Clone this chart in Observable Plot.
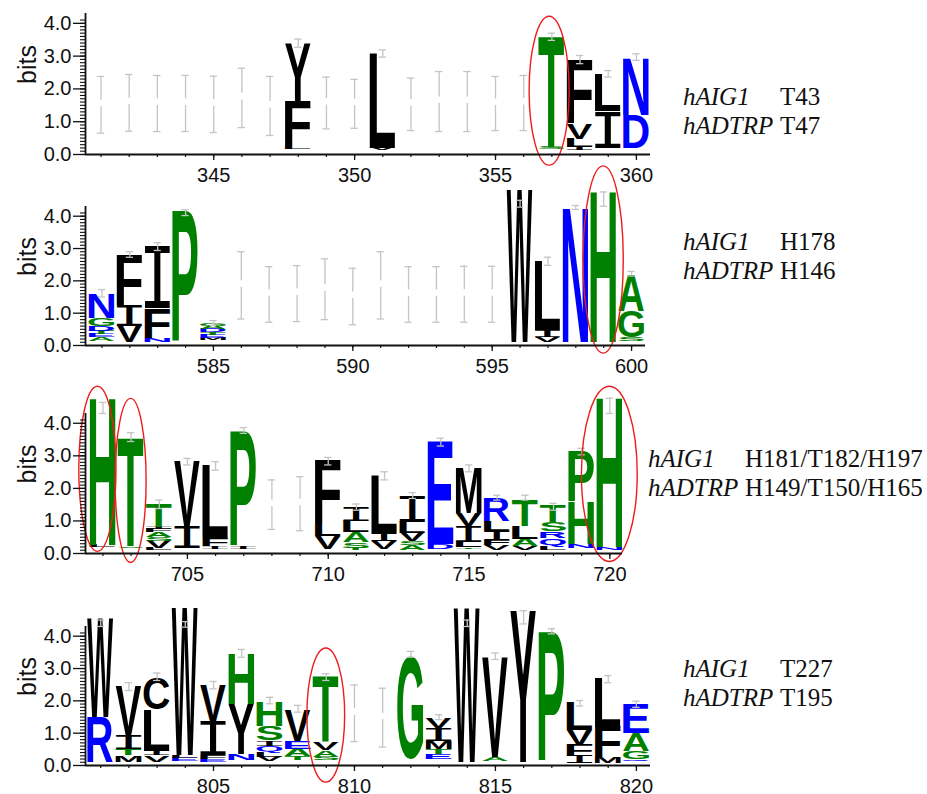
<!DOCTYPE html>
<html><head><meta charset="utf-8">
<script src="https://cdn.jsdelivr.net/npm/d3@7"></script>
<script src="https://cdn.jsdelivr.net/npm/@observablehq/plot@0.6"></script>
<style>
body{margin:0;background:#fff;}
#wrap{position:relative;width:927px;height:794px;overflow:hidden;background:#fff;}
.panel{position:absolute;left:0;}
.note{position:absolute;font-family:"Liberation Serif","Times New Roman",serif;font-size:25px;line-height:29px;color:#111;white-space:nowrap;}
.note i{display:inline-block;width:97px;}
</style></head>
<body><div id="wrap"></div>
<script>
// ---------- DATA (bits) ----------
// stacks: [position, base, letters bottom->top, heights in bits]
const p1Stacks = [
  [348, 0.15, "LFY", [0.07, 1.40, 1.77]],
  [351, 0.12, "VL", [0.06, 2.89]],
  [357, 0.15, "ST", [0.07, 3.41]],
  [358, 0.12, "ILVF", [0.10, 0.25, 0.45, 1.95]],
  [359, 0.18, "IL", [1.12, 1.11]],
  [360, 0.18, "DN", [1.02, 1.75]]
];
const p1Errors = [[341,0.65,2.38],[342,0.71,2.44],[343,0.70,2.41],[344,0.70,2.41],[345,0.67,2.39],[346,0.82,2.63],[347,0.58,2.38],[348,3.27,3.52],[349,0.78,2.36],[350,0.80,2.29],[351,2.97,3.19],[352,0.73,2.33],[353,0.70,2.53],[354,0.70,2.53],[355,0.73,2.38],[356,0.73,2.41],[357,3.48,3.70],[358,2.77,3.02],[359,2.36,2.56],[360,2.87,3.07]];
const p1Circles = [[356.92, 0.71, -0.34, 4.20]];
const p1XTicks = [345, 350, 355, 360];
const p1Note = [["hAIG1", "T43"], ["hADTRP", "T47"]];

const p2Stacks = [
  [581, 0.12, "AETDGN", [0.12, 0.10, 0.10, 0.15, 0.25, 0.76]],
  [582, 0.08, "VIF", [0.50, 0.62, 1.58]],
  [583, 0.10, "NFI", [0.10, 0.93, 1.92]],
  [584, 0.10, "P", [4.05]],
  [585, 0.15, "METDAG", [0.07, 0.10, 0.08, 0.10, 0.10, 0.08]],
  [596, 0.10, "W", [4.70]],
  [597, 0.10, "VIL", [0.15, 0.20, 2.13]],
  [598, 0.10, "N", [4.18]],
  [599, 0.10, "H", [4.70]],
  [600, 0.12, "SGA", [0.13, 0.80, 1.12]]
];
const p2Errors = [[581,1.50,1.73],[582,2.73,2.90],[583,2.94,3.18],[584,4.02,4.20],[585,0.62,0.77],[586,0.82,2.90],[587,0.72,2.44],[588,0.74,2.47],[589,0.80,2.68],[590,0.64,2.39],[591,0.82,2.90],[592,0.72,2.44],[593,0.72,2.44],[594,0.72,2.45],[595,0.72,2.45],[596,4.28,4.49],[597,2.48,2.73],[598,4.21,4.33],[599,4.31,4.75],[600,2.15,2.29]];
const p2Circles = [[599, 0.72, -0.25, 5.54]];
const p2XTicks = [585, 590, 595, 600];
const p2Note = [["hAIG1", "H178"], ["hADTRP", "H146"]];

const p3Stacks = [
  [702, 0.18, "LH", [0.06, 4.56]],
  [703, 0.15, "ST", [0.05, 3.34]],
  [704, 0.08, "LVSAFIT", [0.06, 0.22, 0.12, 0.15, 0.10, 0.08, 0.70]],
  [705, 0.15, "IV", [0.67, 2.00]],
  [706, 0.12, "IFL", [0.08, 0.25, 2.24]],
  [707, 0.12, "IP", [0.08, 3.54]],
  [710, 0.12, "VLF", [0.40, 0.38, 1.94]],
  [711, 0.08, "TSALI", [0.08, 0.17, 0.30, 0.35, 0.42]],
  [712, 0.12, "VIL", [0.25, 0.23, 1.76]],
  [713, 0.10, "ASVLI", [0.14, 0.12, 0.26, 0.33, 0.79]],
  [714, 0.12, "DE", [0.17, 3.15]],
  [715, 0.12, "TLIVM", [0.05, 0.18, 0.47, 0.40, 1.40]],
  [716, 0.08, "VFILR", [0.17, 0.15, 0.27, 0.30, 0.72]],
  [717, 0.10, "VALT", [0.12, 0.22, 0.40, 0.80]],
  [718, 0.10, "LQRST", [0.10, 0.26, 0.20, 0.28, 0.50]],
  [719, 0.15, "NHP", [0.12, 1.32, 1.54]],
  [720, 0.10, "NH", [0.08, 4.62]]
];
const p3Errors = [[702,4.30,4.64],[703,3.44,3.71],[704,1.38,1.64],[705,2.72,2.92],[706,2.56,2.82],[707,3.69,3.87],[708,0.74,2.26],[709,0.70,2.36],[710,2.72,2.95],[711,1.33,1.52],[712,2.26,2.51],[713,1.69,1.87],[714,3.30,3.54],[715,2.51,2.72],[716,1.64,1.79],[717,1.64,1.79],[718,1.33,1.54],[719,3.03,3.23],[720,4.30,4.77]];
const p3Circles = [[701.82, 0.66, 0.05, 5.12], [703, 0.55, -0.29, 4.75], [720, 0.99, -0.26, 5.12]];
const p3XTicks = [705, 710, 715, 720];
const p3Note = [["hAIG1", "H181/T182/H197"], ["hADTRP", "H149/T150/H165"]];

const p4Stacks = [
  [801, 0.10, "RW", [1.39, 3.05]],
  [802, 0.10, "MTIV", [0.20, 0.20, 0.43, 1.49]],
  [803, 0.10, "VILC", [0.20, 0.14, 1.28, 0.96]],
  [804, 0.12, "ELW", [0.10, 0.08, 4.55]],
  [805, 0.10, "EFIV", [0.08, 0.12, 1.04, 1.13]],
  [806, 0.15, "NYH", [0.18, 1.55, 1.57]],
  [807, 0.12, "VLQISH", [0.14, 0.14, 0.20, 0.16, 0.46, 0.76]],
  [808, 0.15, "TAEV", [0.12, 0.22, 0.25, 0.96]],
  [809, 0.15, "SAVT", [0.10, 0.20, 0.25, 2.03]],
  [812, 0.18, "G", [3.17]],
  [813, 0.18, "ETMIV", [0.16, 0.16, 0.25, 0.38, 0.33]],
  [814, 0.10, "W", [4.75]],
  [815, 0.12, "AV", [0.13, 3.10]],
  [816, 0.10, "Y", [4.69]],
  [817, 0.10, "P", [4.02]],
  [818, 0.05, "IFVL", [0.22, 0.35, 0.46, 0.86]],
  [819, 0.05, "MFL", [0.18, 0.96, 1.49]],
  [820, 0.12, "QGAE", [0.07, 0.25, 0.56, 0.91]]
];
const p4Errors = [[801,4.30,4.50],[802,2.32,2.56],[803,2.63,2.86],[804,4.28,4.45],[805,2.37,2.60],[806,3.35,3.59],[807,1.91,2.11],[808,1.65,1.86],[809,2.63,2.84],[810,0.74,2.49],[811,0.57,2.39],[812,3.35,3.53],[813,1.42,1.57],[814,4.30,4.50],[815,3.28,3.48],[816,4.38,4.79],[817,4.07,4.23],[818,1.84,2.01],[819,2.56,2.78],[820,1.80,1.99]];
const p4Circles = [[809, 0.67, -0.53, 3.62]];
const p4XTicks = [805, 810, 815, 820];
const p4Note = [["hAIG1", "T227"], ["hADTRP", "T195"]];

const yTicks = [0, 1, 2, 3, 4];
const residueGroups = {hydrophilic: "RKDENQ", neutral: "SGHTAP", hydrophobic: "YVMCLFIW"};

// ---------- STYLE / LAYOUT ----------
const groupColor = {hydrophilic: "#0000ff", neutral: "#008000", hydrophobic: "#000000"};
const layout = [
  {stacks: p1Stacks, errors: p1Errors, circles: p1Circles, xticks: p1XTicks, note: p1Note, domain: [340.45, 360.5], right: 650, ppb: 32.8, zeroY: 154, noteX: 683, noteY: 82},
  {stacks: p2Stacks, errors: p2Errors, circles: p2Circles, xticks: p2XTicks, note: p2Note, domain: [580.41, 600.5], right: 645, ppb: 32.3, zeroY: 345, noteX: 683, noteY: 227},
  {stacks: p3Stacks, errors: p3Errors, circles: p3Circles, xticks: p3XTicks, note: p3Note, domain: [701.38, 720.45], right: 622, ppb: 32.5, zeroY: 553, noteX: 648, noteY: 444},
  {stacks: p4Stacks, errors: p4Errors, circles: p4Circles, xticks: p4XTicks, note: p4Note, domain: [800.46, 820.5], right: 650, ppb: 32.3, zeroY: 765, noteX: 683, noteY: 654}
];
const yTop = 4.3;

function colorOf(letter) {
  for (const k in residueGroups) if (residueGroups[k].includes(letter)) return groupColor[k];
  return "#000";
}

const SVGNS = "http://www.w3.org/2000/svg";
const mctx = document.createElement("canvas").getContext("2d");
const glyphCache = new Map();
function glyphBox(letter) {
  if (!glyphCache.has(letter)) {
    const serifI = letter === "I";
    const family = serifI ? "DejaVu Sans Mono" : "Liberation Sans";
    const weight = serifI ? "normal" : "bold";
    mctx.font = `${weight} 100px ${serifI ? "'DejaVu Sans Mono', monospace" : "'Liberation Sans', Arial, sans-serif"}`;
    const m = mctx.measureText(letter);
    glyphCache.set(letter, {family: serifI ? "'DejaVu Sans Mono', monospace" : "'Liberation Sans', Arial, sans-serif", weight, left: m.actualBoundingBoxLeft, right: m.actualBoundingBoxRight, ascent: m.actualBoundingBoxAscent, descent: m.actualBoundingBoxDescent});
  }
  return glyphCache.get(letter);
}

function stackRows(stacks) {
  const rows = [];
  for (const [pos, base, letters, bits] of stacks) {
    let y = base;
    [...letters].forEach((letter, k) => {
      rows.push({pos, letter, y1: y, y2: y + bits[k]});
      y += bits[k];
    });
  }
  return rows;
}

function logoLetters(rows) {
  return Plot.rect(rows, {
    x1: d => d.pos - 0.46, x2: d => d.pos + 0.46, y1: "y1", y2: "y2",
    render(index, scales, values) {
      const g = document.createElementNS(SVGNS, "g");
      for (const i of index) {
        const d = rows[i];
        const xa = Math.min(values.x1[i], values.x2[i]), xb = Math.max(values.x1[i], values.x2[i]);
        const ya = Math.min(values.y1[i], values.y2[i]), yb = Math.max(values.y1[i], values.y2[i]);
        const b = glyphBox(d.letter);
        const sx = (xb - xa) / (b.left + b.right), sy = (yb - ya) / (b.ascent + b.descent);
        const t = document.createElementNS(SVGNS, "text");
        t.setAttribute("font-family", b.family);
        t.setAttribute("font-weight", b.weight);
        t.setAttribute("font-size", "100");
        t.setAttribute("text-anchor", "start");
        t.setAttribute("fill", colorOf(d.letter));
        t.setAttribute("transform", `translate(${xa},${ya}) scale(${sx},${sy}) translate(${b.left},${b.ascent})`);
        t.textContent = d.letter;
        g.appendChild(t);
      }
      return g;
    }
  });
}

function errorSegments(errors) {
  const segs = [];
  for (const [pos, lo, hi] of errors) {
    if (hi - lo > 1) {
      const mid = (lo + hi) / 2;
      segs.push({pos, a: lo, b: mid - 0.06}, {pos, a: mid + 0.14, b: hi});
    } else segs.push({pos, a: lo, b: hi});
  }
  return segs;
}

const wrap = document.getElementById("wrap");
const marginTop = 10, marginBottom = 40, marginLeft = 85;
const grey = "#c4c4c4";

layout.forEach(p => {
  const inner = yTop * p.ppb;
  const height = Math.round(inner + marginTop + marginBottom);
  const rows = stackRows(p.stacks);
  const caps = p.errors.flatMap(([pos, lo, hi]) => [{pos, y: lo}, {pos, y: hi}]);
  const columns = p.errors.map(e => e[0]);
  const chart = Plot.plot({
    width: p.right,
    height,
    marginTop, marginBottom, marginLeft, marginRight: 0,
    style: "background: transparent; overflow: visible; font-family: 'Liberation Sans', Arial, sans-serif; color: #111;",
    x: {domain: p.domain},
    y: {domain: [0, yTop]},
    marks: [
      logoLetters(rows),
      Plot.ruleX(errorSegments(p.errors), {x: "pos", y1: "a", y2: "b", stroke: grey, strokeWidth: 1.3}),
      Plot.ruleY(caps, {x1: d => d.pos - 0.13, x2: d => d.pos + 0.13, y: "y", stroke: grey, strokeWidth: 1.3}),
      Plot.rect(p.circles, {x1: d => d[0] - d[1], x2: d => d[0] + d[1], y1: d => d[2], y2: d => d[3], rx: 999, ry: 999, fill: "none", stroke: "#ee1c1c", strokeWidth: 1.4}),
      Plot.axisY(yTicks, {tickSize: 12, tickPadding: 2, tickFormat: d3.format(".1f"), fontSize: 20, label: null, strokeWidth: 1.3}),
      Plot.axisY(d3.range(0, 42).map(k => k / 10), {tickSize: 5, tickFormat: () => "", label: null, strokeWidth: 1.1}),
      Plot.axisX(p.xticks, {tickSize: 6, tickPadding: 7, fontSize: 20, label: null, strokeWidth: 1.3}),
      Plot.axisX(columns, {tickSize: 3, tickFormat: () => "", label: null, strokeWidth: 1.2}),
      Plot.ruleX([p.domain[0]], {y1: 0, y2: yTop, stroke: "#111", strokeWidth: 1.8}),
      Plot.ruleY([0], {stroke: "#111", strokeWidth: 1.8}),
      Plot.text(["bits"], {frameAnchor: "left", rotate: -90, dx: -58, fontSize: 25, fill: "#111"})
    ]
  });
  const div = document.createElement("div");
  div.className = "panel";
  div.style.top = (p.zeroY - (height - marginBottom)) + "px";
  div.appendChild(chart);
  wrap.appendChild(div);

  const note = document.createElement("div");
  note.className = "note";
  note.style.left = p.noteX + "px";
  note.style.top = p.noteY + "px";
  p.note.forEach(([gene, residue]) => {
    const line = document.createElement("div");
    const it = document.createElement("i");
    it.textContent = gene;
    line.appendChild(it);
    line.appendChild(document.createTextNode(residue));
    note.appendChild(line);
  });
  wrap.appendChild(note);
});
</script>
</body></html>
